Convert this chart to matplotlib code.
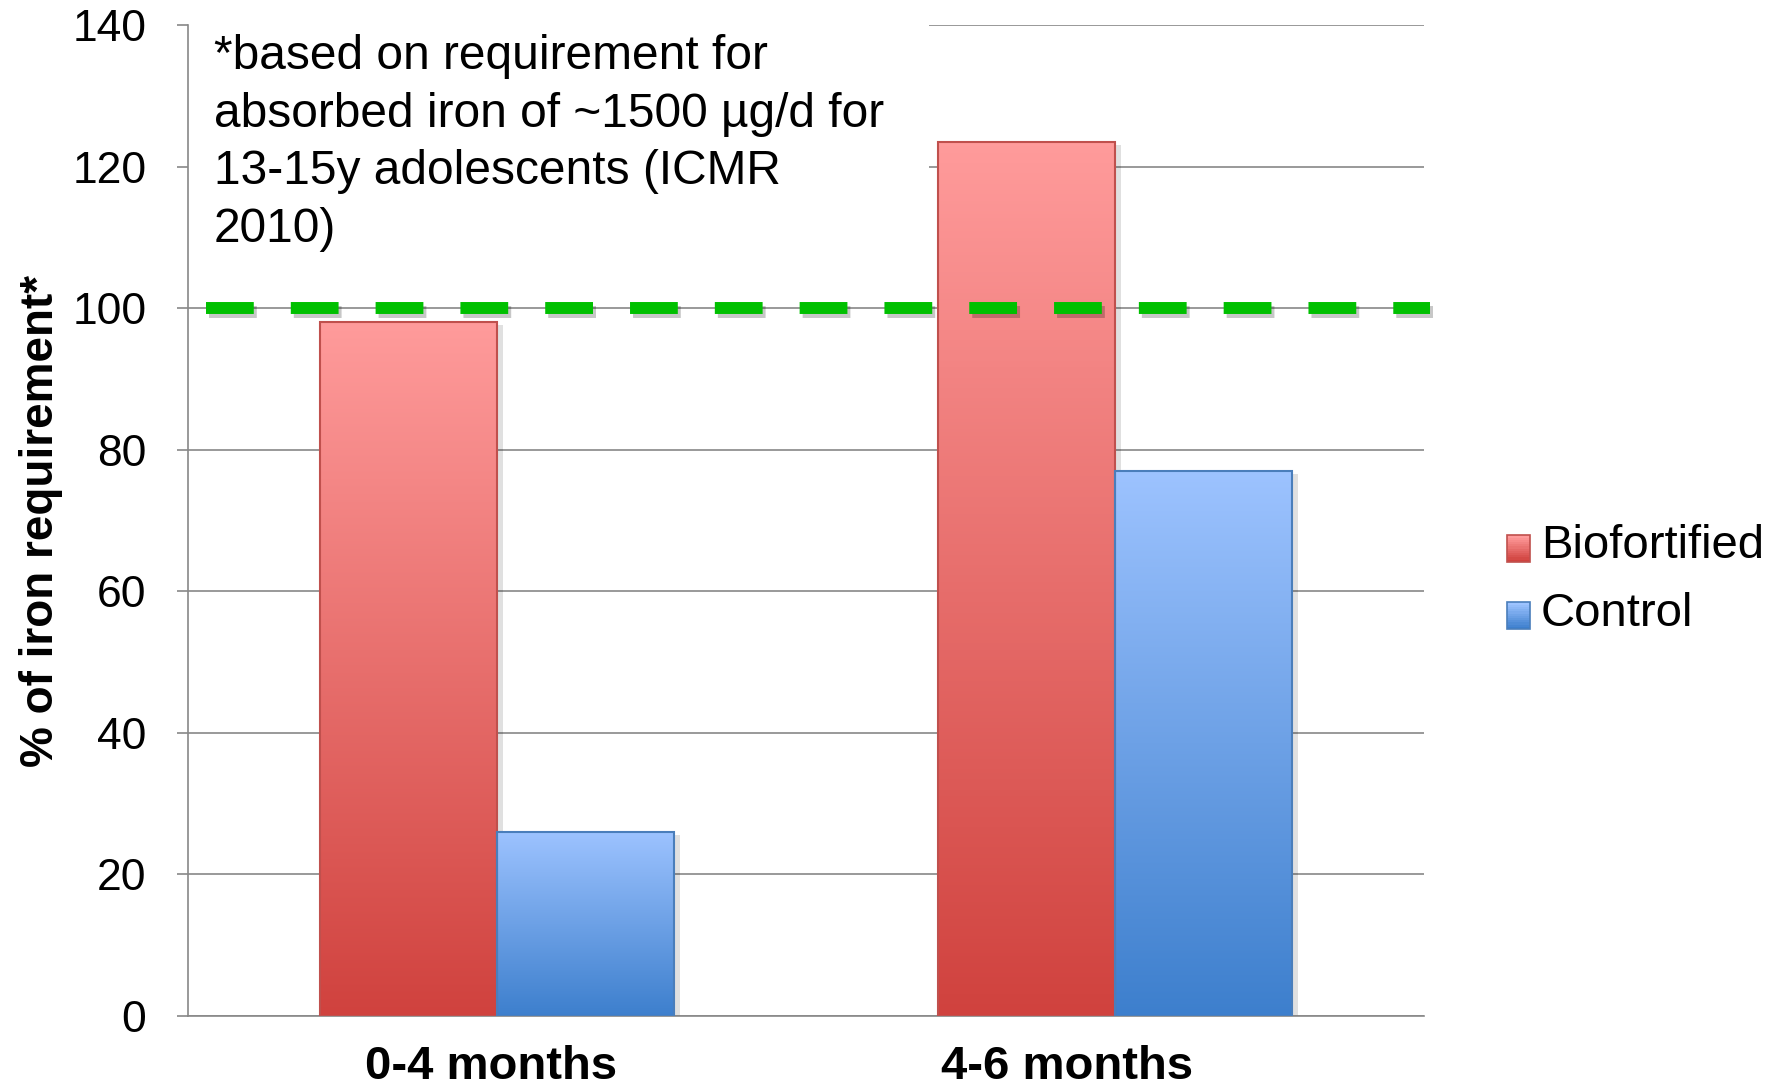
import numpy as np
import matplotlib
matplotlib.use("Agg")
import matplotlib.pyplot as plt
from matplotlib.patches import Rectangle
from matplotlib.legend_handler import HandlerBase
import matplotlib.patheffects as pe
from matplotlib.colors import LinearSegmentedColormap

# ── data ──────────────────────────────────────────────────────────────────────
categories   = ["0-4 months", "4-6 months"]
biofortified = [98, 123.5]
control      = [26, 77]
requirement  = 100
yticks       = [0, 20, 40, 60, 80, 100, 120, 140]
note = ("*based on requirement for\n"
        "absorbed iron of ~1500 \u00b5g/d for\n"
        "13-15y adolescents (ICMR\n"
        "2010)")

# ── styles ────────────────────────────────────────────────────────────────────
RED_TOP,  RED_BOT,  RED_EDGE  = "#ff9b9b", "#d0423e", "#c0504d"
BLUE_TOP, BLUE_BOT, BLUE_EDGE = "#9dc3ff", "#3d7fcd", "#4a7ebb"
GRID = "#888888"
BAR_W = 0.287
LABEL_SHIFT = np.array([-0.01, -0.078])   # category labels sit a bit left of centre

plt.rcParams['font.family'] = ['Liberation Sans', 'DejaVu Sans']

fig = plt.figure(figsize=(17.83, 10.87), dpi=100)
ax = fig.add_axes([0.1054, 0.0653, 0.6933, 0.9117])


def gradient_bars(xs, heights, top, bot, edge):
    cmap = LinearSegmentedColormap.from_list("g", [bot, top])
    grad = np.linspace(0, 1, 256).reshape(-1, 1)
    # soft drop shadow under each bar
    ax.bar(xs, heights, BAR_W, color="white", zorder=2,
           path_effects=[pe.SimplePatchShadow(offset=(4, -2), shadow_rgbFace="k",
                                              alpha=0.12)])
    bars = ax.bar(xs, heights, BAR_W, facecolor="none", edgecolor=edge,
                  linewidth=1.5, zorder=4)
    for b in bars:
        x0, w, h = b.get_x(), b.get_width(), b.get_height()
        im = ax.imshow(grad, cmap=cmap, origin="lower", aspect="auto",
                       extent=[x0, x0 + w, 0, h], zorder=3, interpolation="bilinear")
        im.set_clip_path(b)
    return bars


x = np.arange(len(categories))
gradient_bars(x - BAR_W / 2, biofortified, RED_TOP, RED_BOT, RED_EDGE)
gradient_bars(x + BAR_W / 2, control, BLUE_TOP, BLUE_BOT, BLUE_EDGE)

# requirement reference line
ax.plot([-0.47, 1.51], [requirement, requirement], color="#00c000", lw=8.6,
        dashes=(4, 3.1), solid_capstyle="butt", dash_capstyle="butt",
        zorder=6, clip_on=False,
        path_effects=[pe.SimpleLineShadow(offset=(2, -3), alpha=0.22), pe.Normal()])

# note box sits over the gridlines
ax.add_patch(Rectangle((-0.5, 106), 1.199, 36, facecolor="white",
                       edgecolor="none", zorder=1.5, clip_on=False))
ax.text(0.021, 0.991, note, transform=ax.transAxes, ha="left", va="top",
        fontsize=34.5, linespacing=1.36, zorder=7)

ax.set_xlim(-0.5, 1.5)
ax.set_ylim(0, 140)
ax.set_yticks(yticks)
ax.set_xticks(x + LABEL_SHIFT)
ax.set_xticklabels(categories, fontsize=34, fontweight="bold")
ax.tick_params(axis="x", length=0, pad=21)
ax.tick_params(axis="y", length=8, width=1.2, color=GRID, labelsize=32, pad=22)
ax.set_ylabel("% of iron requirement*", fontsize=33, fontweight="bold", va="center")
ax.yaxis.set_label_coords(-0.119, 0.5)

ax.set_axisbelow(True)
ax.grid(axis="y", color=GRID, lw=1.2)
for s in ("top", "right"):
    ax.spines[s].set_visible(False)
for s in ("left", "bottom"):
    ax.spines[s].set_color(GRID)
    ax.spines[s].set_linewidth(1.2)


class GradientSquare(HandlerBase):
    def __init__(self, top, bot, edge):
        super().__init__()
        self.top, self.bot, self.edge = top, bot, edge

    def create_artists(self, legend, orig_handle, xd, yd, width, height,
                       fontsize, trans):
        cmap = LinearSegmentedColormap.from_list("g", [self.bot, self.top])
        n = 12
        arts = []
        for i in range(n):
            arts.append(Rectangle((xd, yd + height * i / n), width, height / n + 0.3,
                                  facecolor=cmap(i / (n - 1)), edgecolor="none",
                                  transform=trans))
        arts.append(Rectangle((xd, yd), width, height, facecolor="none",
                              edgecolor=self.edge, lw=1.2, transform=trans))
        return arts


h_bio, h_ctl = Rectangle((0, 0), 1, 1), Rectangle((0, 0), 1, 1)
fig.legend([h_bio, h_ctl], ["Biofortified", "Control"],
           handler_map={h_bio: GradientSquare(RED_TOP, RED_BOT, RED_EDGE),
                        h_ctl: GradientSquare(BLUE_TOP, BLUE_BOT, BLUE_EDGE)},
           loc="center left", bbox_to_anchor=(0.845, 0.4664), frameon=False,
           fontsize=34, handlelength=0.49, handleheight=0.49,
           handletextpad=0.23, labelspacing=0.49, borderpad=0, borderaxespad=0)

fig.savefig("out.png", dpi=100)
